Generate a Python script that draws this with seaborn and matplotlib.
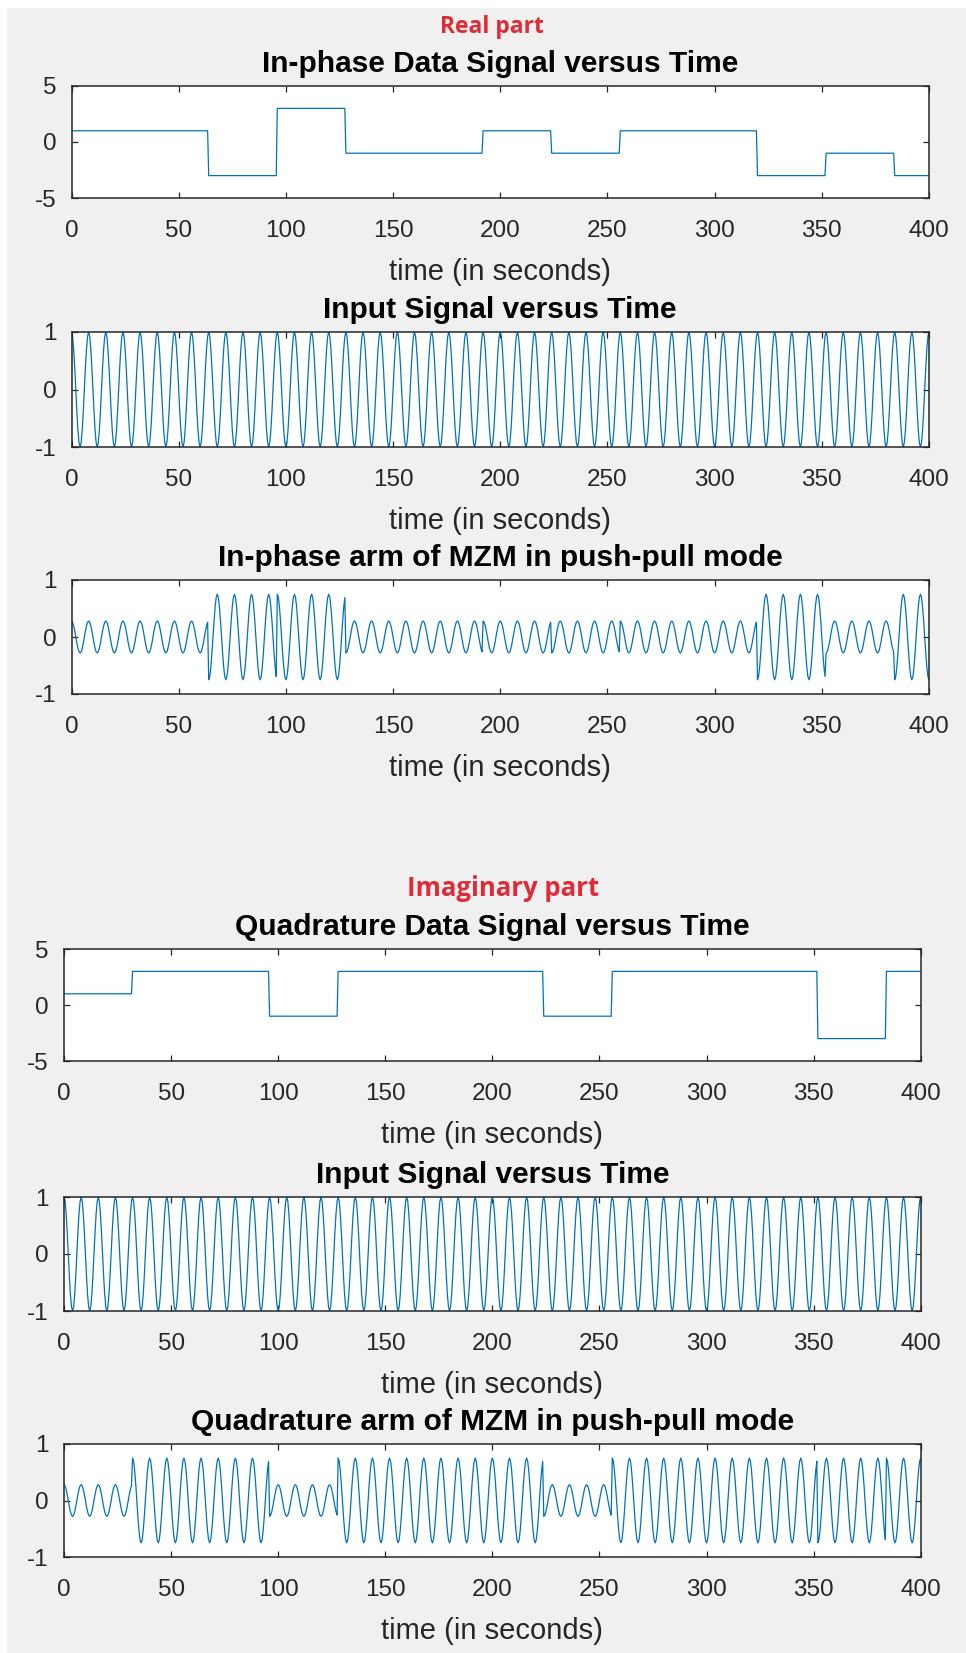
import numpy as np
import matplotlib
matplotlib.use("Agg")
import matplotlib.pyplot as plt
import seaborn as sns
from matplotlib.patches import Rectangle

# ---------------- data ----------------
symbol_period = 32          # seconds per symbol
carrier_period = 8          # seconds per carrier cycle
t_end = 400
dt = 0.5

i_symbols = [1, 1, -3, 3, -1, -1, 1, -1, 1, 1, -3, -1, -3]
q_symbols = [1, 3, 3, -1, 3, 3, 3, -1, 3, 3, 3, -3, 3]
# MZM push-pull output amplitude per symbol level
arm_levels = {-3: -0.75, -1: -0.28, 1: 0.28, 3: 0.75}

x_ticks = [0, 50, 100, 150, 200, 250, 300, 350, 400]
data_yticks = [-5, 0, 5]
sig_yticks = [-1, 0, 1]

titles_real = ["In-phase Data Signal versus Time", "Input Signal versus Time",
               "In-phase arm of MZM in push-pull mode"]
titles_imag = ["Quadrature Data Signal versus Time", "Input Signal versus Time",
               "Quadrature arm of MZM in push-pull mode"]
xlabel = "time (in seconds)"

# ---------------- build series ----------------
t = np.arange(0, t_end + dt / 2, dt)
idx = np.minimum((t // symbol_period).astype(int), len(i_symbols) - 1)
carrier = np.cos(2 * np.pi * t / carrier_period)
i_data = np.array(i_symbols)[idx]
q_data = np.array(q_symbols)[idx]
i_arm = np.array([arm_levels[s] for s in i_data]) * carrier
q_arm = np.array([arm_levels[s] for s in q_data]) * carrier

# ---------------- figure ----------------
sns.set_theme(style="white")
plt.rcParams['font.family'] = ['Liberation Sans', 'DejaVu Sans']

W, H = 966, 1653
fig = plt.figure(figsize=(W / 100, H / 100), dpi=100, facecolor="white")
fig.add_artist(Rectangle((7 / W, 0), 1 - 7 / W, 1 - 8 / H, transform=fig.transFigure,
                         facecolor="#f0f0f0", edgecolor="none", zorder=-10))

line_color = "#0072BD"
frame_color = "#262626"

def make_ax(left, right, top, bottom):
    return fig.add_axes([left / W, 1 - bottom / H, (right - left) / W, (bottom - top) / H])

rects = [
    (71.5, 929, 86, 198), (71.5, 929, 332, 447), (71.5, 929, 580, 694),
    (64, 920.7, 949, 1061), (64, 920.7, 1197, 1311), (64, 920.7, 1444, 1557),
]
series = [i_data, carrier, i_arm, q_data, carrier, q_arm]
titles = titles_real + titles_imag
ylims = [(-5, 5), (-1, 1), (-1, 1)] * 2
yticks = [data_yticks, sig_yticks, sig_yticks] * 2

for r, y, ttl, yl, yt in zip(rects, series, titles, ylims, yticks):
    ax = make_ax(*r)
    ax.set_facecolor("white")
    sns.lineplot(x=t, y=y, ax=ax, color=line_color, linewidth=0.9, estimator=None)
    ax.set_xlim(0, t_end)
    ax.set_ylim(*yl)
    ax.set_xticks(x_ticks)
    ax.set_yticks(yt)
    ax.set_xticklabels([str(v) for v in x_ticks])
    ax.set_yticklabels([str(v) for v in yt])
    ax.tick_params(direction="in", length=4.5, width=0.9, color=frame_color,
                   labelsize=17.5, labelcolor=frame_color, top=True, right=True,
                   bottom=True, left=True)
    ax.tick_params(axis="x", pad=16)
    ax.tick_params(axis="y", pad=11)
    for sp in ax.spines.values():
        sp.set_visible(True)
        sp.set_color(frame_color)
        sp.set_linewidth(1.1)
    ax.set_xlabel(xlabel, fontsize=21, color=frame_color, labelpad=11.5)
    ax.set_ylabel("")
    ax.set_title(ttl, fontsize=21.5, fontweight="bold", color="black", pad=10)

fig.text(492 / W, 1 - 27 / H, "Real part", color="#E02B37", fontsize=16.5,
         fontweight="bold", family=["Open Sans", "DejaVu Sans"], ha="center", va="center")
fig.text(503 / W, 1 - 888 / H, "Imaginary part", color="#E02B37", fontsize=18.5,
         fontweight="bold", family=["Open Sans", "DejaVu Sans"], ha="center", va="center")

fig.savefig("out.png", dpi=100, facecolor=fig.get_facecolor())
